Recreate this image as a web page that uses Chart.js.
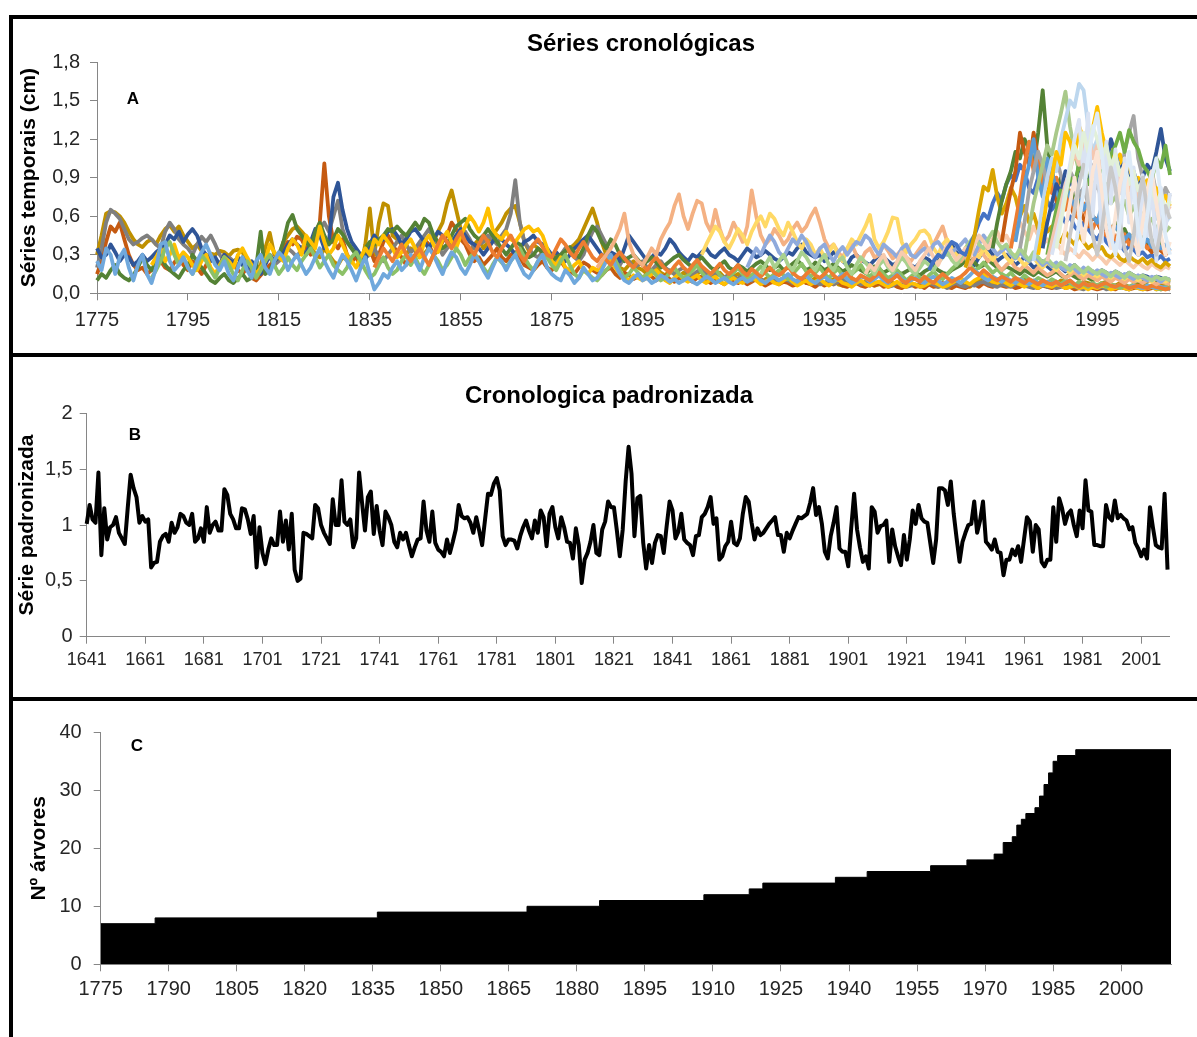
<!DOCTYPE html>
<html lang="pt">
<head>
<meta charset="utf-8">
<title>Séries cronológicas</title>
<script src="https://cdn.jsdelivr.net/npm/chart.js@4.4.1/dist/chart.umd.min.js"></script>
<style>
  html, body { margin: 0; padding: 0; background: #fff; }
  body { width: 1197px; height: 1037px; position: relative; overflow: hidden; font-family: "Liberation Sans", Arial, sans-serif; }
  canvas { position: absolute; left: 0; }
  .frame { position: absolute; background: #000; }
  .panel-title { position: absolute; transform: translate(-50%, -50%); font-weight: bold; font-size: 24px; line-height: 1; white-space: nowrap; color: #000; }
  .panel-letter { position: absolute; transform: translate(-50%, -50%); font-weight: bold; font-size: 17px; line-height: 1; color: #000; }
</style>
</head>
<body>
<canvas id="chartA" width="1197" height="330" style="top:20px"></canvas>
<canvas id="chartB" width="1197" height="335" style="top:360px"></canvas>
<canvas id="chartC" width="1197" height="335" style="top:702px"></canvas>

<div class="frame" style="left:9px;top:15px;width:1188px;height:4px"></div>
<div class="frame" style="left:9px;top:15px;width:4px;height:1022px"></div>
<div class="frame" style="left:9px;top:353px;width:1188px;height:4px"></div>
<div class="frame" style="left:9px;top:697px;width:1188px;height:4px"></div>

<div class="panel-title" style="left:641px;top:43px">Séries cronológicas</div>
<div class="panel-title" style="left:609px;top:395px">Cronologica padronizada</div>
<div class="panel-letter" style="left:133px;top:98px">A</div>
<div class="panel-letter" style="left:135px;top:434px">B</div>
<div class="panel-letter" style="left:137px;top:745px">C</div>

<script>
// ---- A: ring widths per tree, hundredths of cm, one value per year from treeStart ----
const tree01 = [
  30,45,62,64,63,60,55,48,42,38, 36,40,42,38,45,50,53,48,52,45, 40,35,38,33,28,31,30,33,32,29,
  33,34,32,25,22,18,22,35,47,30, 28,40,45,50,52,48,44,38,30,28, 35,30,25,22,28,26,24,30,20,38,
  66,30,55,70,68,45,42,38,30,35, 33,28,31,35,40,48,55,70,80,65, 50,40,32,38,42,35,40,45,50,55,
  62,66,68,55,40,33,38,35,31,28, 25,30,28,32,35,38,42,50,58,66, 55,40,30,26,24,20,18,22,25,20,
  18,15,17,20,16,14,18,15,13,16, 14,12,15,18,13,11,14,16,12,10, 13,15,11,9,12,10,8,11,13,9,
  10,12,9,7,10,11,8,9,12,10, 8,9,11,7,6,9,10,8,7,9, 8,6,7,9,10,8,6,5,7,8,
  6,7,9,8,6,5,7,6,8,9, 7,6,5,8,10,12,9,8,11,10, 9,8,7,10,12,9,8,7,6,9,
  8,7,10,9,8,6,7,9,8,7, 6,8,9,7,6,8,7,5,6,8, 7,6,5,7,8,6,5
];
const tree02 = [
  15,25,40,52,48,55,42,30,22,18, 20,15,18,22,25,20,18,24,28,22, 18,25,20,15,22,28,25,20,30,26,
  22,18,15,20,12,10,14,18,22,25, 30,35,40,38,44,42,35,30,45,55, 101,60,40,35,42,30,25,28,22,30,
  35,25,30,40,45,38,32,28,22,26, 30,35,42,38,30,33,40,45,55,50, 42,38,30,25,28,22,26,30,35,28,
  25,30,32,28,22,20,18,22,25,20, 18,22,25,20,17,15,20,24,22,18, 16,14,18,20,15,12,16,14,11,13,
  12,15,13,10,12,14,11,9,12,10, 11,9,12,13,10,8,11,9,7,10, 9,8,10,7,9,11,8,6,8,9,
  7,9,8,6,7,10,8,7,5,8, 6,8,7,9,6,5,7,8,6,5, 7,6,8,5,6,7,5,4,6,7,
  5,6,4,7,5,6,8,5,4,6, 5,4,6,7,5,8,6,5,7,6, 5,6,4,5,7,6,5,4,6,5,
  4,5,6,4,5,3,4,6,5,4, 3,4,5,4,3,5,4,3,4,5, 4,3,4,5,3,4,3
];
const tree03 = [
  20,35,55,65,62,58,50,42,38,40, 43,45,42,38,35,48,55,50,42,38, 35,30,38,44,40,45,38,30,25,28,
  25,22,28,24,18,15,20,25,28,22, 25,30,35,32,28,35,40,38,45,50, 55,48,60,72,50,40,35,30,25,28,
  30,35,28,25,30,35,40,45,38,32, 35,40,45,50,42,38,30,35,40,45, 50,48,42,35,38,40,45,42,38,45,
  50,62,88,55,40,35,30,28,32,30, 28,25,30,35,32,28,25,30,40,48, 52,45,38,30,25,22,28,25,20,22,
  25,20,18,22,25,20,17,15,18,20, 16,14,17,19,15,13,16,14,12,15, 13,11,14,12,10,13,11,9,12,10,
  9,11,10,8,9,12,10,8,9,7, 8,10,7,9,11,8,6,9,7,8, 6,8,9,7,5,6,8,7,5,6,
  7,5,6,8,7,5,6,4,7,8, 6,5,7,6,8,9,7,6,5,7, 6,5,7,8,6,5,4,6,7,5,
  6,4,5,7,6,5,4,3,5,6, 4,5,3,4,6,5,4,3,5,4, 3,4,5,3,4,5,4
];
const tree04 = [
  35,28,30,38,32,25,30,28,22,25, 30,25,28,32,35,38,45,42,48,40, 46,50,45,35,30,25,28,22,30,26,
  24,28,22,18,25,20,15,22,30,25, 28,32,38,42,38,35,30,40,50,45, 35,40,75,86,65,50,40,35,30,25,
  38,45,40,42,48,50,45,38,42,48, 50,45,40,35,42,48,45,40,38,45, 50,45,40,38,35,30,35,40,45,42,
  38,35,30,35,40,42,45,40,38,35, 30,32,28,25,30,35,38,42,45,40, 35,30,28,32,30,25,35,45,40,35,
  30,25,28,32,30,35,42,38,32,28, 25,30,28,32,35,30,28,32,35,30, 28,25,30,35,32,28,30,33,30,27,
  25,28,32,30,35,38,32,30,28,30, 25,28,32,30,25,22,28,30,26,24, 22,26,30,28,25,22,24,28,25,22,
  20,24,28,26,22,25,30,35,38,32, 28,30,25,22,28,32,35,30,25,28, 30,26,22,25,28,24,20,22,25,21,
  18,22,20,17,19,22,18,16,19,17, 15,18,16,14,17,15,13,16,14,12, 14,13,11,13,12,10,11
];
const tree05 = [
  10,15,12,18,22,15,12,10,14,20, 28,22,18,25,30,22,18,15,12,18, 22,30,25,20,15,10,8,12,15,10,
  8,12,15,10,12,20,48,15,18,25, 30,40,55,61,50,45,40,35,48,55, 45,38,42,50,46,40,35,30,25,35,
  40,38,42,45,50,48,52,48,45,50, 55,50,58,55,45,40,35,38,45,52, 55,58,50,45,42,45,50,45,40,35,
  30,35,40,38,32,28,30,35,32,28, 25,28,30,33,36,32,28,35,45,52, 48,40,35,42,38,30,25,28,30,26,
  22,25,28,24,20,22,25,28,30,26, 23,20,25,28,24,20,18,22,25,20, 18,22,20,17,20,23,25,22,18,20,
  22,18,20,23,26,22,18,20,24,21, 18,20,23,20,17,19,22,20,18,16, 18,21,19,16,18,20,17,15,17,19,
  16,14,17,19,21,18,16,15,18,20, 22,25,28,24,20,22,26,23,20,18, 21,19,17,15,18,16,14,17,15,13,
  15,17,14,12,15,13,11,14,12,10, 12,14,11,10,13,11,9,12,10,9, 11,9,10,8,10,9,8
];
const tree06 = [
  22,28,35,25,30,38,27,32, 28,22,18,25,30,20,15,22,28,25,
  20,30,35,28,22,15,20,25,38,32, 28,25,35,42,38,30,45,40,35,52, 40,30,35,45,38,30,25,20,28,35,
  30,42,38,45,40,35,28,32,38,42, 35,28,40,45,38,32,42,48,40,35, 45,52,60,55,48,55,66,50,45,42,
  48,42,40,45,50,52,48,50,45,35, 25,22,28,20,18,22,25,18,15,20, 18,22,28,25,20,15,12,10,14,12,
  10,12,15,18,14,10,8,12,15,11, 9,12,14,10,8,11,13,9,7,10, 12,9,8,11,13,10,7,9,11,8,
  7,10,12,9,6,8,10,7,9,11, 8,6,9,11,8,7,5,8,10,7, 6,8,9,7,5,7,9,6,5,8,
  7,5,6,8,9,7,5,6,8,10, 12,9,7,10,12,15,11,9,8,10, 8,6,9,7,5,8,6,4,7,6,
  5,7,6,4,5,6,4,5,3,5, 4,6,5,3,4,5,4,3,5,4, 3,4,5,3,4,3,4
];
const tree07 = [
  12,18,25,35,40,30,22,28, 20,15,22,30,25,18,12,20,28,22,
  15,10,18,25,20,12,18,25,30,22, 15,20,28,22,18,25,30,35,28,20, 25,30,22,18,15,20,28,32,25,18,
  12,15,22,28,20,15,18,25,30,22, 28,20,15,22,30,25,18,22,28,35, 30,22,28,32,25,20,15,22,28,24,
  20,25,30,35,28,22,18,25,30,28, 22,18,25,30,22,15,12,18,15,12, 10,14,18,22,26,18,12,15,20,16,
  12,15,18,14,10,12,16,20,15,12, 14,18,22,16,12,15,19,14,11,13, 16,20,15,11,14,17,21,16,12,15,
  18,14,11,15,19,23,17,13,16,20, 15,12,16,19,14,11,15,18,22,16, 13,17,20,15,12,14,18,14,10,13,
  16,12,10,14,17,13,11,15,19,22, 25,28,22,18,20,24,20,16,19,15, 13,16,12,10,14,11,9,12,10,8,
  11,9,7,10,8,6,9,7,5,8, 6,8,5,7,6,4,6,5,7,5, 4,6,5,4,3,5,4
];
const tree08 = [
  25,18,35,30,15,28,34,20,10,22, 30,15,8,20,38,40,25,18,22,28, 20,15,25,32,38,30,22,18,25,15,
  10,20,28,18,12,25,30,20,15,25, 32,28,18,25,30,22,15,20,28,35, 25,18,12,22,30,25,18,10,20,28,
  15,3,8,15,12,20,25,18,22,30, 25,18,28,35,30,22,15,25,32,28, 20,15,22,30,25,18,12,20,28,25,
  18,25,30,22,15,12,18,25,30,20, 15,12,10,18,14,8,12,20,15,10, 12,18,25,30,22,15,10,8,12,15,
  10,12,8,10,14,12,9,11,8,10, 12,9,7,10,13,11,8,10,12,9, 7,10,12,9,11,14,10,8,11,13,
  10,12,15,11,9,12,14,10,8,11, 13,10,9,12,15,11,8,10,13,12, 9,11,14,10,8,12,15,11,9,10,
  12,9,8,11,13,10,7,9,12,10, 8,11,14,18,15,12,10,13,11,9, 12,10,8,11,9,7,10,8,6,9,
  7,9,6,8,10,7,5,8,6,7, 5,7,8,6,5,7,6,4,6,5, 4,6,5,4,5,4,3
];
const tree09 = [
  20,28,35,30,25,32,38,30,25,
  30,35,28,22,30,38,45,40,35,42, 48,40,35,30,38,45,40,32,28,35, 40,45,38,30,25,32,38,42,36,30,
  28,35,42,38,32,28,35,40,34,28, 25,30,26,22,28,32,27,23,20,25, 22,18,24,28,23,19,16,21,25,20,
  17,22,26,21,18,15,19,23,18,15, 18,22,17,14,19,16,13,17,20,16, 14,17,21,16,13,11,15,18,14,12,
  15,19,14,11,13,16,12,10,14,12, 10,13,16,12,9,11,14,10,8,12, 11,9,13,10,8,12,15,12,9,11,
  13,16,20,17,14,18,15,12,10,13, 11,9,12,10,8,11,9,7,10,8, 7,9,6,8,10,7,5,8,6,7,
  5,7,8,6,5,7,6,4,5,6, 5,4,6,5,4,3,4
];
const tree10 = [
  20,25,30,35,42,50,62,40,30,25,
  22,28,35,30,42,49,55,68,77,60, 50,62,72,70,55,48,65,50,40,45, 55,48,40,52,80,60,45,38,42,50,
  45,38,42,50,55,48,52,60,66,55, 42,35,38,32,28,35,38,30,25,32, 35,28,30,38,33,27,30,34,28,25,
  30,35,40,32,38,45,52,40,32,28, 25,30,22,28,35,30,25,28,22,18, 22,25,20,18,22,19,16,20,17,14,
  16,19,15,12,14,17,13,11,14,12, 10,13,11,9,12,10,8,11,9,10, 8,10,9,7,9,8,7
];
const tree11 = [
  30,38,45,52,48,40,35,
  42,50,45,38,48,55,60,52,62,58, 50,45,55,48,40,35,42,38,30,35, 28,32,38,30,25,35,42,38,45,52,
  61,42,35,40,48,59,58,40,32,38, 42,48,49,45,35,30,38,42,35,30, 28,35,40,32,28,35,30,26,30,34,
  28,24,30,26,22,25,28,23,20,24, 21,18,22,19,16,20,17,14,18,15, 13,16,14,12,15,13,11,14,12,10,
  12,11,9,12,10,9,11
];
const tree12 = [
  20,28,35,30,38,45,40,
  32,28,35,42,38,45,40,32,28,35, 38,30,25,32,36,30,35,40,38,45, 42,35,30,38,35,32,28,35,38,30,
  28,32,35,30,38,40,35,30,32,35, 38,42,35,30,38,45,40,35,30,33, 36,30,27,32,28,25,29,26,22,25,
  21,24,20,18,22,19,16,20,17,15, 18,15,13,16,14,12,15,13,11,14, 12,10,13,11,9,12,10
];
const tree13 = [
  15,22,28,20,
  25,30,22,18,25,32,28,22,18,25, 30,22,18,25,28,20,15,22,28,24, 20,15,22,26,20,16,22,28,24,18,
  15,20,25,22,18,24,28,32,26,22, 28,35,40,45,38,35,42,48,40,35, 38,32,28,35,30,26,32,28,24,27,
  23,20,24,21,18,22,19,16,20,17, 15,18,16,13,17,15,12,16,14,12, 14,12,10,13,11,12,10
];
const tree14 = [
  15,
  22,18,25,30,22,18,25,32,28,22, 18,25,30,35,28,22,30,38,32,26, 30,35,28,38,45,40,35,42,48,40,
  45,38,50,55,48,42,52,45,38,42, 36,40,34,30,35,32,28,33,30,26, 30,27,23,28,25,22,26,23,20,24,
  21,19,23,20,18,21,19
];
const tree15 = [
  18,25,30,28,35,40,38,
  32,30,38,45,55,62,58,70,78,72, 85,92,88,100,95,82,78,90,85,72, 65,70,62,55,60,52,48,55,50,45,
  42,48,40,36,42,38,33,37,34,30, 32,28,30,26,29,25,27
];
const tree16 = [
  20,32,45,65,83,80,96,75,62,
  70,82,75,60,68,55,62,50,58,48, 52,45,40,48,42,38,45,40,35,38, 33,36,30,28,32,27,25,29,26,24,
  27,23,26,22,20,24,21
];
const tree17 = [
  35,55,72,
  85,95,110,105,120,112,98,125,158,115, 95,82,90,75,68,80,72,65,70,60, 55,62,52,48,55,45,50,42,46,40,
  44,38,42,36,40,35,33
];
const tree18 = [
  40,
  62,80,95,125,110,100,125,105,90,78, 85,72,65,78,70,60,68,58,52,60, 55,48,52,45,42,48,40,44,38,35,
  40,36,32,37,33,30,34
];
const tree19 = [
  35,55,75,100,118,95,110,85,100,
  78,90,70,65,80,62,58,70,55,50, 58,48,45,52,42,40,46,38,42,36,
  40,35,38,33,36,31,34
];
const tree20 = [
  40,60,85,100,120,90,75,105,
  95,80,70,85,75,68,80,65,72,60, 55,68,50,45,52,48,42,46,40,44,
  38,42,36,40,35,38,33
];
const tree21 = [
  35,55,80,95,110,100,85,
  90,105,92,80,95,88,75,82,70,78, 85,72,68,80,95,85,110,125,138,105,
  90,82,95,78,70,82,75
];
const tree22 = [
  30,50,70,85,100,115,
  108,125,140,157,130,110,95,105,88,80, 92,78,85,70,75,65,72,60,68,58,
  62,55,58,50,55,48,52
];
const tree23 = [
  25,45,70,90,
  105,95,120,135,150,145,163,158,130,110, 120,95,105,85,92,78,88,72,80,68,
  75,62,70,58,65,55,60
];
const tree24 = [
  30,50,75,
  90,110,100,125,118,105,130,120,115,128, 145,125,110,118,100,108,92,98,85,90,
  80,88,75,82,70,76,68
];
const tree25 = [
  35,55,
  70,85,78,95,88,80,100,92,85,98, 105,110,100,120,108,95,102,88,95,82,
  90,100,95,110,128,105,95
];
const tree26 = [
  30,
  48,65,80,75,90,85,100,92,85,95, 88,100,95,108,115,125,110,127,118,112,
  100,95,88,105,98,115,92
];
const tree27 = [
  25,
  40,55,70,85,95,110,100,118,125,105, 115,98,108,90,100,85,95,80,88,75,
  82,70,78,65,72,62,68
];
const tree28 = [
  30,45,60,80,100,120,135,90,140,60, 110,40,118,70,112,35,105,55,98,30,
  92,45,88,25,82,50,78
];
const tree29 = [
  35,55,75,95,115,105,125,110,130,
  120,105,115,98,108,92,100,85,95,80,
  88,75,82,70,78,65,72
];
const tree30 = [
  30,50,70,90,60,40,65,95,
  110,80,50,35,60,85,100,70,45,30,
  55,80,95,70,45,30,40
];
const tree31 = [
  25,45,65,85,100,70,45,
  30,50,75,98,82,55,35,25,45,70,
  90,65,40,30,50,68,58
];
const tree32 = [
  30,55,80,105,125,
  140,110,70,45,30,55,85,110,80,50,
  35,60,90,105,75,45,30
];
const treeStart = [
  1775, 1775, 1775, 1775, 1775, 1787, 1787, 1775,
  1836, 1885, 1908, 1918, 1921, 1944,
  1958, 1966, 1972, 1974, 1976, 1977, 1978, 1979, 1981, 1982, 1983, 1984, 1984, 1985, 1986, 1987, 1988, 1990
];
const treeSeries = [
  tree01, tree02, tree03, tree04, tree05, tree06, tree07, tree08,
  tree09, tree10, tree11, tree12, tree13, tree14,
  tree15, tree16, tree17, tree18, tree19, tree20, tree21, tree22, tree23, tree24, tree25, tree26,
  tree27, tree28, tree29, tree30, tree31, tree32
];
const treeColors = [
  '#BF9000', '#C55A11', '#7F7F7F', '#2F5597', '#548235', '#FFC000', '#8CC168', '#6FA8DC',
  '#ED7D31', '#F4B183', '#FFD966', '#8FAADC', '#A9D18E', '#F8CBAD',
  '#4472C4', '#D9A400', '#548235', '#C55A11', '#ED7D31', '#5B9BD5', '#A5A5A5', '#A9C98A', '#BDD7EE',
  '#FFC000', '#2F5597', '#70AD47', '#F4C7B0', '#DAE3F3', '#E2F0D9', '#FBE5D6', '#C9C9C9', '#DEEBF7'
];
const ticksA = [1775, 1795, 1815, 1835, 1855, 1875, 1895, 1915, 1935, 1955, 1975, 1995];
const yTicksA = [0, 0.3, 0.6, 0.9, 1.2, 1.5, 1.8];

// ---- B: standardised chronology, 1641-2010 ----
const stdStart = 1641;
const stdChron = [
  1.01,1.18,1.05,1.02,1.47,0.73,1.15,0.87,0.98,1.00,
  1.07,0.93,0.88,0.83,1.15,1.45,1.33,1.25,1.02,1.08,
  1.03,1.05,0.62,0.66,0.67,0.85,0.90,0.92,0.85,1.02,
  0.93,0.98,1.10,1.08,1.02,1.00,1.10,0.85,0.88,0.97,
  0.85,1.16,0.93,1.00,1.03,0.95,0.95,1.32,1.27,1.10,
  1.05,0.97,0.97,1.15,1.14,1.05,0.92,1.08,0.62,0.98,
  0.75,0.65,0.78,0.88,0.82,0.82,1.12,0.85,1.04,0.78,
  1.10,0.60,0.50,0.52,0.93,0.92,0.90,0.88,1.18,1.15,
  1.00,0.93,0.88,0.83,1.23,1.00,1.00,1.40,1.03,1.00,
  1.05,0.80,0.88,1.47,1.20,0.95,1.25,1.30,0.92,1.17,
  0.95,0.82,1.12,1.07,1.00,0.85,0.80,0.93,0.87,0.93,
  0.82,0.72,0.80,0.87,0.88,1.21,0.95,0.85,1.12,0.84,
  0.78,0.76,0.72,0.87,0.75,0.85,0.96,1.18,1.08,1.06,
  1.07,1.02,0.93,1.07,0.95,0.82,1.05,1.28,1.27,1.37,
  1.42,1.31,0.90,0.82,0.87,0.87,0.86,0.79,0.90,0.98,
  1.04,0.95,0.88,1.04,0.93,1.13,1.07,0.81,1.10,1.16,
  0.98,0.88,1.07,0.98,0.85,0.84,0.70,0.97,0.82,0.48,
  0.69,0.75,0.85,1.00,0.75,0.73,0.96,1.03,1.21,1.16,
  1.16,0.95,0.72,0.96,1.39,1.70,1.46,0.90,1.24,1.26,
  0.84,0.61,0.82,0.66,0.84,0.91,0.90,0.75,0.99,1.21,
  1.13,0.88,0.94,1.10,0.87,0.84,0.82,0.73,0.90,0.91,
  1.07,1.10,1.16,1.25,1.01,1.06,0.69,0.72,0.81,0.85,
  1.03,0.84,0.82,0.88,1.10,1.25,1.21,1.02,0.87,0.97,
  0.91,0.93,0.97,1.01,1.04,1.07,0.91,0.91,0.76,0.93,
  0.88,0.95,1.01,1.07,1.06,1.08,1.10,1.20,1.33,1.09,
  1.16,1.01,0.76,0.70,0.90,1.02,1.16,0.79,0.76,0.76,
  0.63,0.97,1.28,0.96,0.80,0.67,0.72,0.61,1.16,1.12,
  0.93,0.99,1.00,1.04,0.67,0.96,0.81,0.72,0.64,0.91,
  0.69,0.87,1.13,1.01,1.18,1.06,1.03,1.02,0.84,0.66,
  0.87,1.33,1.33,1.31,1.18,1.39,1.10,0.88,0.67,0.85,
  0.93,1.00,1.01,1.21,0.93,1.04,1.21,0.85,0.82,0.78,
  0.87,0.76,0.75,0.55,0.69,0.69,0.78,0.73,0.81,0.67,
  0.87,1.07,1.03,0.76,1.00,0.96,0.67,0.63,0.69,0.69,
  1.16,0.85,1.24,1.15,1.01,1.10,1.13,1.00,0.90,1.13,
  0.97,1.40,1.13,1.12,0.82,0.82,0.81,0.81,1.18,1.07,
  1.04,1.22,1.06,1.09,1.06,1.04,0.96,0.98,0.84,0.79,
  0.72,0.78,0.70,1.16,0.98,0.82,0.80,0.79,1.28,0.60
];
const ticksB = [1641, 1661, 1681, 1701, 1721, 1741, 1761, 1781, 1801, 1821, 1841, 1861, 1881, 1901, 1921, 1941, 1961, 1981, 2001];
const yTicksB = [0, 0.5, 1, 1.5, 2];

// ---- C: sample depth (number of trees), value holds from each year to the next ----
const depthYears = [1775, 1787, 1836, 1869, 1885, 1908, 1918, 1921, 1937, 1944, 1958, 1966, 1972,
  1974, 1976, 1977, 1978, 1979, 1981, 1982, 1983, 1984, 1985, 1986, 1990, 2011];
const depthTrees = [7, 8, 9, 10, 11, 12, 13, 14, 15, 16, 17, 18, 19,
  21, 22, 24, 25, 26, 27, 29, 31, 33, 35, 36, 37, 37];
const ticksC = [1775, 1790, 1805, 1820, 1835, 1850, 1865, 1880, 1895, 1910, 1925, 1940, 1955, 1970, 1985, 2000];
const yTicksC = [0, 10, 20, 30, 40];

const fontFamily = '"Liberation Sans", Arial, sans-serif';
const axisGray = '#868686';
const labelColor = '#262626';

function fixedTicks(values) {
  return (scale) => { scale.ticks = values.map(v => ({ value: v })); };
}

function xAxis(min, max, ticks, size, pad, height) {
  return {
    type: 'linear', min, max,
    afterBuildTicks: fixedTicks(ticks),
    afterFit: (s) => { s.height = height; },
    border: { color: axisGray, width: 1 },
    grid: { drawOnChartArea: false, tickLength: 7, color: axisGray },
    ticks: { color: labelColor, font: { family: fontFamily, size }, padding: pad, maxRotation: 0, autoSkip: false, callback: v => String(v) }
  };
}

function yAxis(min, max, ticks, fmt, size, pad, width, title, titlePad) {
  return {
    min, max,
    afterBuildTicks: fixedTicks(ticks),
    afterFit: (s) => { s.width = width; },
    border: { color: axisGray, width: 1 },
    grid: { drawOnChartArea: false, tickLength: 7, color: axisGray },
    ticks: { color: labelColor, font: { family: fontFamily, size }, padding: pad, callback: fmt },
    title: { display: true, text: title, color: '#000', font: { family: fontFamily, size: 21, weight: 'bold' }, padding: { top: titlePad, bottom: 0 } }
  };
}

const commaNum = v => String(v).replace('.', ',');

function baseOptions(pad, scales) {
  return {
    responsive: false,
    animation: false,
    events: [],
    layout: { padding: pad },
    plugins: { legend: { display: false }, tooltip: { enabled: false } },
    scales
  };
}

// A: one line per tree
new Chart(document.getElementById('chartA'), {
  type: 'line',
  data: {
    datasets: treeSeries.map((vals, i) => ({
      data: vals.map((v, k) => ({ x: treeStart[i] + k, y: v / 100 })),
      borderColor: treeColors[i],
      borderWidth: 3.8,
      borderJoinStyle: 'round',
      pointRadius: 0,
      tension: 0,
      fill: false,
      clip: 6,
      order: -i
    }))
  },
  options: baseOptions({ top: 42, right: 27, left: 0, bottom: 0 }, {
    x: xAxis(1775, 2011, ticksA, 20, 8, 56.7),
    y: yAxis(0, 1.8, yTicksA, v => v.toFixed(1).replace('.', ','), 20, 10, 97, 'Séries temporais (cm)', 17)
  })
});

// B: standardised chronology
new Chart(document.getElementById('chartB'), {
  type: 'line',
  data: {
    datasets: [{
      data: stdChron.map((v, k) => ({ x: stdStart + k, y: v })),
      borderColor: '#000',
      borderWidth: 4,
      borderJoinStyle: 'round',
      pointRadius: 0,
      tension: 0,
      fill: false,
      clip: 6
    }]
  },
  options: baseOptions({ top: 53.3, right: 28, left: 0, bottom: 0 }, {
    x: xAxis(1641, 2010.5, ticksB, 18, 6, 58.3),
    y: yAxis(0, 2, yTicksB, commaNum, 20, 7, 86.7, 'Série padronizada', 15)
  })
});

// C: sample depth as a filled step line
new Chart(document.getElementById('chartC'), {
  type: 'line',
  data: {
    datasets: [{
      data: depthYears.map((yr, i) => ({ x: yr, y: depthTrees[i] })),
      stepped: true,
      borderColor: '#000',
      borderWidth: 1,
      backgroundColor: '#000',
      fill: 'origin',
      pointRadius: 0
    }]
  },
  options: baseOptions({ top: 30.3, right: 26, left: 0, bottom: 0 }, {
    x: xAxis(1775, 2011, ticksC, 20, 6, 72.7),
    y: yAxis(0, 40, yTicksC, v => String(v), 20, 12, 100.7, 'Nº árvores', 27)
  })
});
</script>
</body>
</html>
